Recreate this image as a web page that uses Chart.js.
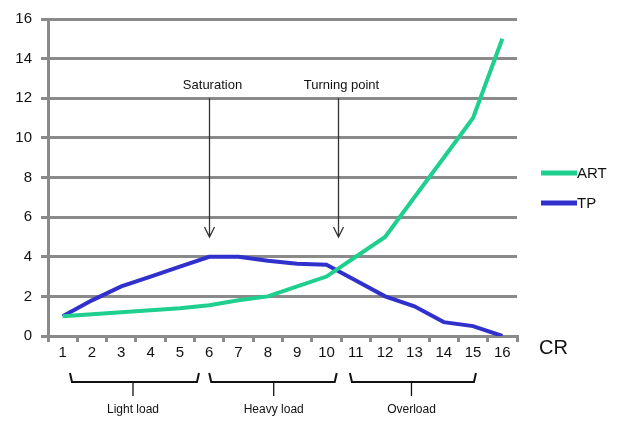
<!DOCTYPE html>
<html>
<head>
<meta charset="utf-8">
<title>ART / TP vs CR</title>
<script src="https://cdn.jsdelivr.net/npm/chart.js@4/dist/chart.umd.min.js"></script>
<style>
  html, body { margin: 0; padding: 0; background: #fff; }
</style>
</head>
<body>
<canvas id="myChart" width="622" height="421"></canvas>
<script>
// data
var crLabels = ['1','2','3','4','5','6','7','8','9','10','11','12','13','14','15','16'];
var artValues = [1.0, 1.1, 1.2, 1.3, 1.4, 1.55, 1.8, 2.0, 2.5, 3.0, 4.0, 5.0, 7.0, 9.0, 11.0, 15.0];
var tpValues = [1.0, 1.8, 2.5, 3.0, 3.5, 4.0, 4.0, 3.8, 3.65, 3.6, 2.8, 2.0, 1.5, 0.7, 0.5, 0.0];
var yMax = 16;
var yStep = 2;

// annotations: [label, x index, arrow top value, arrow tip value]
var arrows = [
  ['Saturation', 5, 12, 5],
  ['Turning point', 9.4, 12, 5]
];
// load regions: [label, from index, to index, centre index]
var regions = [
  ['Light load', 0.25, 4.65, 2.4],
  ['Heavy load', 5.0, 9.35, 7.2],
  ['Overload', 9.8, 14.1, 11.9]
];

var ART_COLOR = '#1ecf8e';
var TP_COLOR = '#3030cc';
var GRID = '#8a8a8a';

var extras = {
  id: 'extras',
  afterDatasetsDraw: function(chart) {
    var c = chart.ctx, x = chart.scales.x, y = chart.scales.y;
    c.save();
    c.fillStyle = '#111';
    c.strokeStyle = '#333';
    // arrows
    c.font = '13px "Liberation Sans", Arial, sans-serif';
    c.textAlign = 'center';
    c.textBaseline = 'bottom';
    arrows.forEach(function(a) {
      var px = Math.round(x.getPixelForValue(a[1])) + 0.5;
      var top = y.getPixelForValue(a[2]);
      var bot = y.getPixelForValue(a[3]);
      c.fillText(a[0], px + 3, top - 6);
      c.lineWidth = 1.3;
      c.beginPath();
      c.moveTo(px, top);
      c.lineTo(px, bot);
      c.moveTo(px - 5, bot - 10);
      c.lineTo(px, bot);
      c.lineTo(px + 5, bot - 10);
      c.stroke();
    });
    // braces under the x axis
    var by = 382;
    c.strokeStyle = '#111';
    c.lineWidth = 2;
    c.textBaseline = 'middle';
    c.font = '12px "Liberation Sans", Arial, sans-serif';
    regions.forEach(function(r) {
      var x1 = x.getPixelForValue(r[1]);
      var x2 = x.getPixelForValue(r[2]);
      var xm = x.getPixelForValue(r[3]);
      c.beginPath();
      c.moveTo(x1, by - 9);
      c.lineTo(x1 + 2, by);
      c.lineTo(x2 - 2, by);
      c.lineTo(x2, by - 9);
      c.stroke();
      c.lineWidth = 1.3;
      c.beginPath();
      c.moveTo(xm, by);
      c.lineTo(xm, by + 14);
      c.stroke();
      c.lineWidth = 2;
      c.fillText(r[0], xm, 410);
    });
    // CR axis title
    c.font = '20px "Liberation Sans", Arial, sans-serif';
    c.textAlign = 'left';
    c.fillText('CR', 539, 348);
    // legend
    c.font = '15px "Liberation Sans", Arial, sans-serif';
    chart.data.datasets.forEach(function(ds, i) {
      var ly = 173 + i * 30;
      c.strokeStyle = ds.borderColor;
      c.lineWidth = 5;
      c.beginPath();
      c.moveTo(541, ly);
      c.lineTo(577, ly);
      c.stroke();
      c.fillStyle = '#111';
      c.fillText(ds.label, 577, ly + 1);
    });
    c.restore();
  }
};

var ctx = document.getElementById('myChart');
var myChart = new Chart(ctx, {
  type: 'line',
  data: {
    labels: crLabels,
    datasets: [
      {
        label: 'ART',
        data: artValues,
        borderColor: ART_COLOR,
        backgroundColor: ART_COLOR,
        borderWidth: 4,
        pointRadius: 0,
        tension: 0
      },
      {
        label: 'TP',
        data: tpValues,
        borderColor: TP_COLOR,
        backgroundColor: TP_COLOR,
        borderWidth: 4,
        pointRadius: 0,
        tension: 0
      }
    ]
  },
  options: {
    responsive: false,
    animation: false,
    devicePixelRatio: 1,
    layout: { padding: { top: 19, right: 105, left: 0, bottom: 0 } },
    plugins: {
      legend: { display: false },
      tooltip: { enabled: false }
    },
    scales: {
      x: {
        offset: true,
        grid: {
          offset: true,
          drawOnChartArea: false,
          drawTicks: true,
          tickLength: 6,
          color: GRID,
          lineWidth: 3
        },
        border: { display: true, color: GRID, width: 3 },
        ticks: {
          color: '#111',
          font: { family: '"Liberation Sans", Arial, sans-serif', size: 15 },
          padding: 2,
          maxRotation: 0,
          autoSkip: false
        },
        afterFit: function(s) { s.height = 85; }
      },
      y: {
        min: 0,
        max: yMax,
        grid: {
          color: GRID,
          lineWidth: 3,
          tickLength: 7
        },
        border: { display: true, color: GRID, width: 3 },
        ticks: {
          stepSize: yStep,
          autoSkip: false,
          color: '#111',
          font: { family: '"Liberation Sans", Arial, sans-serif', size: 15 },
          padding: 9
        },
        afterFit: function(s) { s.width = 48; }
      }
    }
  },
  plugins: [extras]
});
</script>
</body>
</html>
